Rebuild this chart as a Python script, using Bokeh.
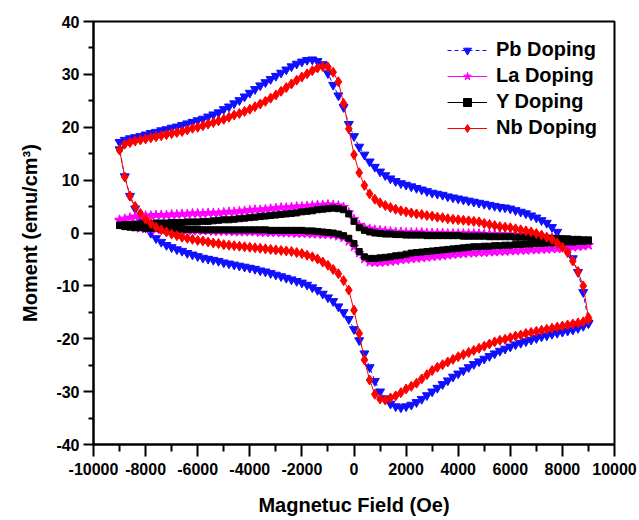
from bokeh.plotting import figure
from bokeh.models import Range1d, FixedTicker
from bokeh.embed import file_html
from bokeh.resources import INLINE

# Field grid (Oe), ascending
H = [-9000, -8800, -8600, -8400, -8200, -8000, -7800, -7600, -7400, -7200,
     -7000, -6800, -6600, -6400, -6200, -6000, -5800, -5600, -5400, -5200,
     -5000, -4800, -4600, -4400, -4200, -4000, -3800, -3600, -3400, -3200,
     -3000, -2800, -2600, -2400, -2200, -2000, -1800, -1600, -1400, -1200,
     -1000, -800, -600, -400, -200, 0, 200, 400, 600, 800,
     1000, 1200, 1400, 1600, 1800, 2000, 2200, 2400, 2600, 2800,
     3000, 3200, 3400, 3600, 3800, 4000, 4200, 4400, 4600, 4800,
     5000, 5200, 5400, 5600, 5800, 6000, 6200, 6400, 6600, 6800,
     7000, 7200, 7400, 7600, 7800, 8000, 8200, 8400, 8600, 8800,
     9000]

# Pb Doping: upper branch (ascending field) and lower branch (listed in ascending field)
pb_up = [17.2, 17.6, 17.9, 18.1, 18.3, 18.6, 18.9, 19.1, 19.4, 19.6,
         19.9, 20.1, 20.4, 20.7, 21.0, 21.3, 21.6, 22.0, 22.4, 22.8,
         23.4, 23.9, 24.5, 25.1, 25.8, 26.5, 27.2, 27.9, 28.5, 29.1,
         29.7, 30.3, 30.9, 31.5, 32.0, 32.4, 32.7, 32.8, 32.5, 31.9,
         30.2, 28.0, 26.0, 23.8, 20.6, 18.3, 16.3, 14.8, 13.5, 12.5,
         11.6, 10.9, 10.3, 9.8, 9.4, 9.1, 8.8, 8.5, 8.2, 7.9,
         7.6, 7.4, 7.2, 6.9, 6.7, 6.5, 6.3, 6.1, 5.9, 5.7,
         5.5, 5.3, 5.1, 4.9, 4.8, 4.6, 4.3, 4.0, 3.7, 3.3,
         2.9, 2.4, 1.9, 1.1, 0.2, -1.5, -3.2, -4.8, -7.4, -11.2,
         -17.0]
pb_down = [15.8, 10.7, 7.0, 4.6, 2.6, 1.0, 0.0, -1.0, -1.7, -2.3,
           -2.7, -3.1, -3.4, -3.8, -4.1, -4.4, -4.7, -4.9, -5.1, -5.3,
           -5.6, -5.8, -6.0, -6.2, -6.4, -6.6, -6.8, -7.1, -7.3, -7.6,
           -7.9, -8.2, -8.5, -8.8, -9.1, -9.4, -9.8, -10.3, -10.8, -11.5,
           -12.2, -12.9, -13.9, -15.0, -16.3, -18.2, -20.3, -22.8, -25.4, -28.0,
           -30.0, -31.3, -32.3, -32.8, -33.0, -32.8, -32.5, -32.0, -31.4, -30.7,
           -30.0, -29.3, -28.6, -27.9, -27.2, -26.6, -26.0, -25.4, -24.8, -24.3,
           -23.8, -23.3, -22.8, -22.3, -21.9, -21.5, -21.1, -20.8, -20.5, -20.2,
           -19.9, -19.6, -19.4, -19.1, -18.9, -18.7, -18.5, -18.3, -18.0, -17.6,
           -17.1]

# La Doping
la_up = [2.5, 2.7, 2.9, 3.1, 3.2, 3.3, 3.3, 3.4, 3.4, 3.4,
         3.5, 3.5, 3.6, 3.6, 3.7, 3.7, 3.7, 3.8, 3.8, 3.8,
         3.9, 4.0, 4.0, 4.1, 4.2, 4.3, 4.4, 4.4, 4.5, 4.6,
         4.7, 4.8, 4.8, 4.9, 5.0, 5.0, 5.1, 5.2, 5.3, 5.3,
         5.4, 5.3, 5.2, 4.9, 3.9, 2.6, 1.5, 1.0, 0.8, 0.6,
         0.5, 0.4, 0.3, 0.2, 0.2, 0.1, 0.1, 0.1, 0.1, 0.0,
         0.0, 0.0, 0.0, -0.1, -0.1, -0.1, -0.1, -0.1, -0.1, -0.1,
         -0.2, -0.2, -0.2, -0.2, -0.3, -0.3, -0.3, -0.4, -0.4, -0.5,
         -0.6, -0.7, -0.8, -0.9, -1.1, -1.3, -1.5, -1.7, -1.9, -2.1,
         -2.3]
la_down = [2.3, 1.8, 1.4, 1.1, 0.9, 0.8, 0.7, 0.7, 0.6, 0.6,
           0.6, 0.5, 0.5, 0.5, 0.4, 0.4, 0.4, 0.4, 0.3, 0.3,
           0.3, 0.3, 0.2, 0.2, 0.2, 0.2, 0.2, 0.1, 0.1, 0.1,
           0.1, 0.0, 0.0, 0.0, -0.1, -0.1, -0.1, -0.2, -0.2, -0.3,
           -0.3, -0.4, -0.6, -0.9, -1.6, -2.6, -3.8, -4.9, -5.5, -5.6,
           -5.6, -5.5, -5.4, -5.3, -5.1, -5.0, -4.9, -4.8, -4.7, -4.6,
           -4.5, -4.4, -4.3, -4.2, -4.1, -4.0, -3.9, -3.8, -3.8, -3.7,
           -3.7, -3.6, -3.6, -3.5, -3.5, -3.4, -3.4, -3.3, -3.3, -3.2,
           -3.2, -3.1, -3.1, -3.0, -3.0, -2.9, -2.8, -2.7, -2.6, -2.5,
           -2.3]

# Y Doping
y_up = [1.5, 1.6, 1.6, 1.7, 1.7, 1.8, 1.8, 1.9, 1.9, 1.9,
        2.0, 2.0, 2.0, 2.1, 2.1, 2.1, 2.2, 2.2, 2.3, 2.4,
        2.5, 2.5, 2.6, 2.7, 2.8, 2.9, 3.0, 3.1, 3.2, 3.3,
        3.4, 3.5, 3.6, 3.7, 3.8, 4.0, 4.1, 4.2, 4.4, 4.5,
        4.6, 4.7, 4.6, 4.4, 3.6, 2.2, 1.0, 0.5, 0.2, 0.0,
        -0.1, -0.2, -0.2, -0.3, -0.3, -0.4, -0.4, -0.4, -0.4, -0.5,
        -0.5, -0.5, -0.5, -0.5, -0.5, -0.5, -0.6, -0.6, -0.6, -0.6,
        -0.6, -0.7, -0.7, -0.7, -0.7, -0.7, -0.8, -0.8, -0.8, -0.9,
        -0.9, -0.9, -1.0, -1.0, -1.0, -1.1, -1.1, -1.2, -1.2, -1.3,
        -1.3]
y_down = [1.4, 1.2, 1.1, 1.0, 1.0, 0.9, 0.9, 0.9, 0.8, 0.8,
          0.8, 0.8, 0.7, 0.7, 0.7, 0.7, 0.6, 0.6, 0.6, 0.6,
          0.6, 0.6, 0.6, 0.6, 0.6, 0.6, 0.6, 0.6, 0.6, 0.5,
          0.5, 0.5, 0.5, 0.5, 0.5, 0.5, 0.4, 0.4, 0.3, 0.2,
          0.1, 0.0, -0.2, -0.5, -1.0, -2.0, -3.5, -4.5, -4.8, -4.8,
          -4.7, -4.6, -4.5, -4.3, -4.2, -4.0, -3.8, -3.7, -3.6, -3.5,
          -3.4, -3.3, -3.2, -3.1, -3.0, -2.9, -2.8, -2.7, -2.6, -2.6,
          -2.5, -2.5, -2.4, -2.4, -2.3, -2.3, -2.2, -2.2, -2.1, -2.1,
          -2.0, -2.0, -1.9, -1.9, -1.8, -1.8, -1.7, -1.7, -1.6, -1.6,
          -1.5]

# Nb Doping
nb_up = [15.7, 16.8, 17.1, 17.4, 17.6, 17.8, 18.0, 18.2, 18.4, 18.6,
         18.8, 19.0, 19.2, 19.5, 19.8, 20.0, 20.3, 20.6, 20.9, 21.2,
         21.5, 21.9, 22.3, 22.6, 23.0, 23.4, 23.9, 24.4, 24.9, 25.5,
         26.1, 26.8, 27.5, 28.2, 28.9, 29.5, 30.1, 30.7, 31.2, 31.5,
         31.4, 30.4, 28.6, 24.5, 19.7, 14.8, 11.4, 9.0, 7.4, 6.4,
         5.7, 5.2, 4.8, 4.5, 4.2, 4.0, 3.8, 3.6, 3.5, 3.3,
         3.2, 3.0, 2.9, 2.7, 2.6, 2.5, 2.4, 2.3, 2.2, 2.1,
         1.8, 1.6, 1.4, 1.2, 1.1, 1.0, 0.8, 0.6, 0.4, 0.2,
         -0.1, -0.4, -0.8, -1.2, -1.9, -2.7, -3.7, -5.3, -7.3, -10.0,
         -16.0]
nb_down = [15.7, 10.6, 7.0, 5.0, 3.7, 2.6, 1.8, 1.1, 0.6, 0.2,
           -0.2, -0.5, -0.8, -1.0, -1.2, -1.4, -1.5, -1.7, -1.9, -2.0,
           -2.2, -2.3, -2.4, -2.5, -2.6, -2.7, -2.8, -2.9, -3.0, -3.1,
           -3.2, -3.3, -3.4, -3.5, -3.7, -3.9, -4.2, -4.5, -4.9, -5.5,
           -6.1, -6.9, -7.7, -9.0, -10.8, -14.6, -19.0, -24.0, -27.8, -30.5,
           -31.4, -31.6, -31.2, -30.8, -30.2, -29.5, -29.0, -28.4, -27.6, -26.8,
           -26.0, -25.4, -24.9, -24.4, -23.9, -23.4, -23.0, -22.6, -22.2, -21.8,
           -21.4, -21.0, -20.6, -20.3, -20.1, -19.8, -19.5, -19.3, -19.0, -18.8,
           -18.6, -18.4, -18.2, -18.0, -17.8, -17.6, -17.4, -17.2, -17.0, -16.8,
           -16.4]

X_TICKS = [-10000, -8000, -6000, -4000, -2000, 0, 2000, 4000, 6000, 8000, 10000]
X_LABELS = ["-10000", "-8000", "-6000", "-4000", "-2000", "0",
            "2000", "4000", "6000", "8000", "10000"]
X_MINOR = [-9000, -7000, -5000, -3000, -1000, 1000, 3000, 5000, 7000, 9000]
Y_TICKS = [-40, -30, -20, -10, 0, 10, 20, 30, 40]
Y_LABELS = ["-40", "-30", "-20", "-10", "0", "10", "20", "30", "40"]
Y_MINOR = [-35, -25, -15, -5, 5, 15, 25, 35]

FONT = "Liberation Sans"

p = figure(width=639, height=520, output_backend="svg", toolbar_location=None,
           x_range=Range1d(-10000, 10000), y_range=Range1d(-40, 40),
           min_border_left=93, min_border_right=25, min_border_top=21,
           min_border_bottom=76)
p.xgrid.visible = False
p.ygrid.visible = False
p.outline_line_color = "black"
p.outline_line_width = 2
p.background_fill_color = "white"
p.border_fill_color = "white"

for ax in (p.xaxis[0], p.yaxis[0]):
    ax.axis_line_width = 2
    ax.major_tick_line_width = 2
    ax.minor_tick_line_width = 2
    ax.major_tick_in = 0
    ax.minor_tick_in = 0
    ax.major_label_text_font = FONT
    ax.major_label_text_font_style = "bold"
    ax.major_label_text_font_size = "16px"
    ax.major_label_text_color = "black"
    ax.axis_label_text_font = FONT
    ax.axis_label_text_font_style = "bold"
    ax.axis_label_text_font_size = "20px"
    ax.axis_label_text_color = "black"

p.xaxis.ticker = FixedTicker(ticks=X_TICKS, minor_ticks=X_MINOR)
p.yaxis.ticker = FixedTicker(ticks=Y_TICKS, minor_ticks=Y_MINOR)
p.xaxis.major_label_overrides = dict(zip(X_TICKS, X_LABELS))
p.yaxis.major_label_overrides = dict(zip(Y_TICKS, Y_LABELS))
p.xaxis.major_tick_out = 12
p.xaxis.minor_tick_out = 7
p.yaxis.major_tick_out = 10
p.yaxis.minor_tick_out = 5
p.xaxis.major_label_standoff = 6
p.yaxis.major_label_standoff = 4
p.xaxis.axis_label = "Magnetuc Field (Oe)"
p.yaxis.axis_label = "Moment (emu/cm³)"
p.xaxis.axis_label_standoff = 16
p.yaxis.axis_label_standoff = 12

series = [
    ("Pb Doping", pb_up, pb_down, "#1010ff", "inverted_triangle", 9, "4 3"),
    ("La Doping", la_up, la_down, "#ff00ff", "star", 10, "solid"),
    ("Y Doping", y_up, y_down, "black", "square", 6, "solid"),
    ("Nb Doping", nb_up, nb_down, "#ff0000", "diamond", 10, "solid"),
]

for name, up, down, color, marker, size, dash in series:
    xs = list(H) + list(reversed(H))
    ys = list(up) + list(reversed(down))
    p.line(xs, ys, line_color=color, line_width=1, line_dash=dash, legend_label=name)
    p.scatter(xs, ys, marker=marker, size=size, fill_color=color, line_color=color,
              legend_label=name)

lg = p.legend[0]
lg.location = (349, 300)
lg.border_line_alpha = 0
lg.background_fill_alpha = 0
lg.label_text_font = FONT
lg.label_text_font_style = "bold"
lg.label_text_font_size = "20px"
lg.label_text_color = "black"
lg.glyph_width = 40
lg.glyph_height = 20
lg.label_height = 20
lg.spacing = 3
lg.padding = 5
lg.margin = 0
lg.label_standoff = 9

open("out.html", "w").write(file_html(p, INLINE))
